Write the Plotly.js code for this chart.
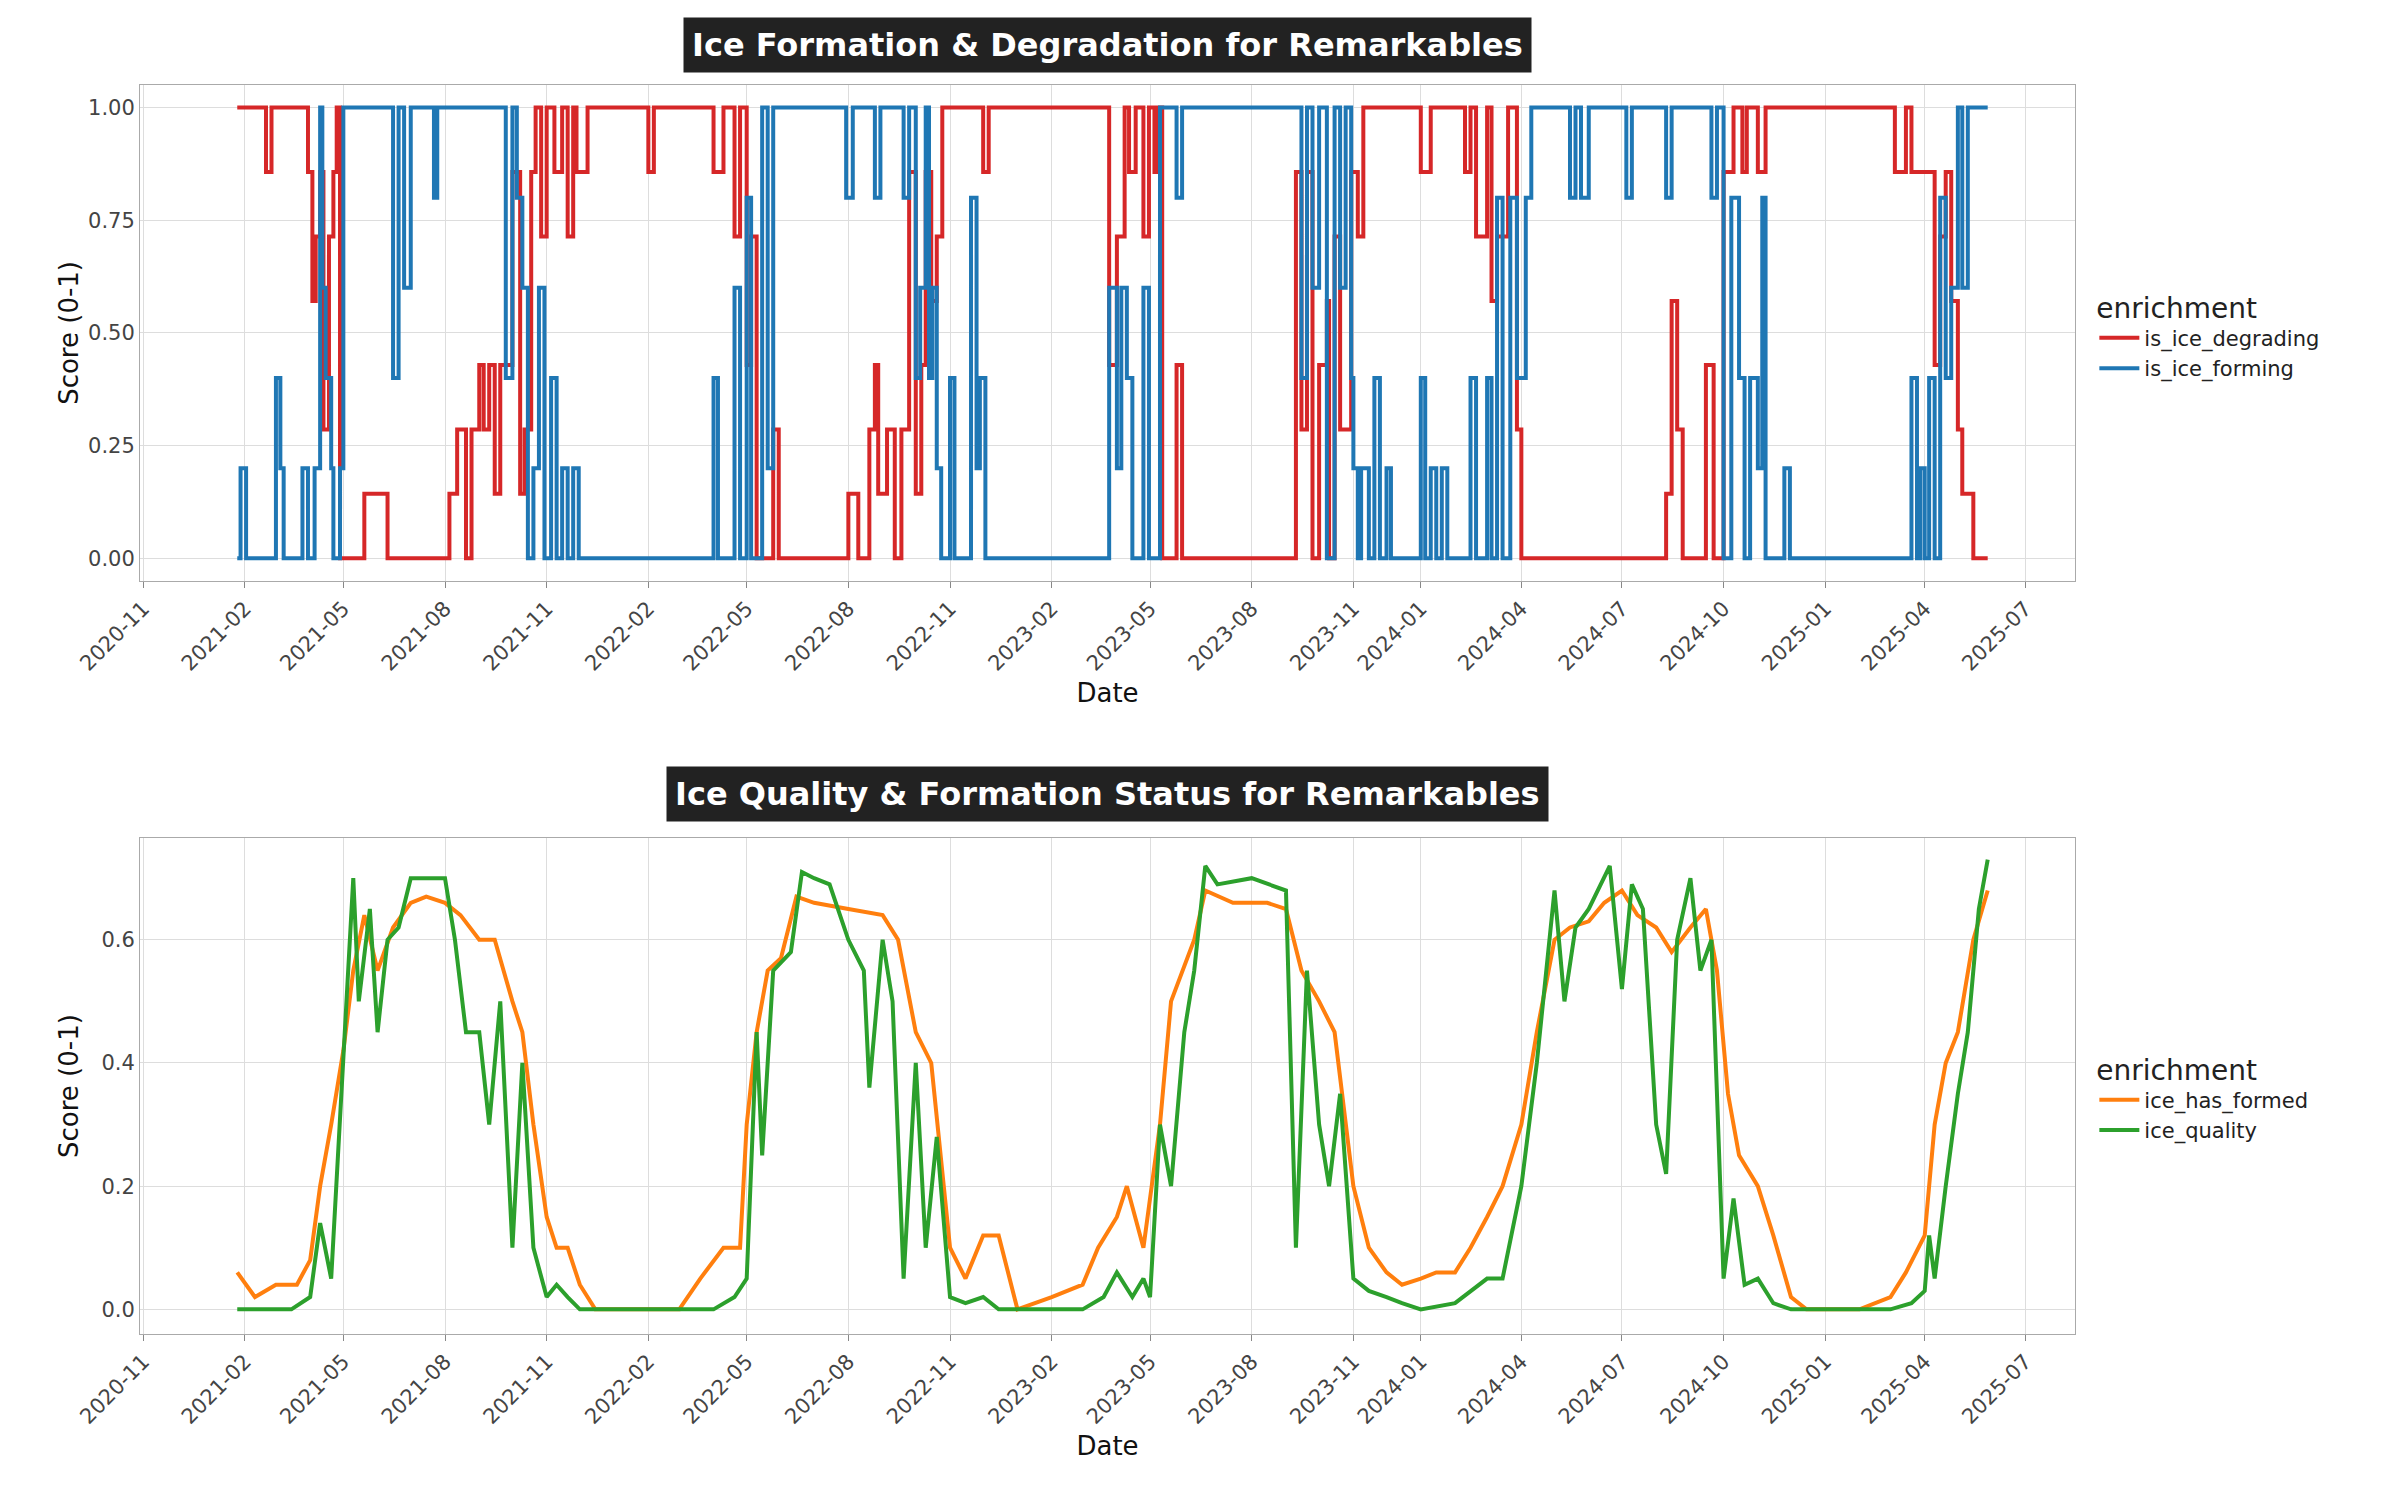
<!DOCTYPE html>
<html><head><meta charset="utf-8">
<script src="https://cdn.plot.ly/plotly-3.0.1.min.js"></script>
<style>body{margin:0;background:#fff}</style></head>
<body><div id="chart" style="width:2400px;height:1500px"></div>
<script>
// top panel: change points (step series)
var degDates = ["2021-01-25","2021-02-20","2021-02-25","2021-03-30","2021-04-03","2021-04-06","2021-04-10","2021-04-13","2021-04-18","2021-04-22","2021-04-25","2021-04-28","2021-05-20","2021-06-10","2021-08-05","2021-08-12","2021-08-20","2021-08-25","2021-09-01","2021-09-05","2021-09-10","2021-09-15","2021-09-20","2021-10-01","2021-10-08","2021-10-12","2021-10-18","2021-10-22","2021-10-27","2021-11-01","2021-11-08","2021-11-15","2021-11-20","2021-11-25","2021-11-28","2021-12-08","2022-02-01","2022-02-06","2022-04-01","2022-04-10","2022-04-20","2022-04-25","2022-05-01","2022-05-05","2022-05-10","2022-05-25","2022-05-30","2022-08-01","2022-08-10","2022-08-20","2022-08-25","2022-08-28","2022-09-05","2022-09-12","2022-09-18","2022-09-25","2022-10-01","2022-10-06","2022-10-10","2022-10-15","2022-10-20","2022-10-25","2022-12-01","2022-12-06","2023-03-25","2023-04-01","2023-04-08","2023-04-12","2023-04-18","2023-04-25","2023-04-30","2023-05-05","2023-05-08","2023-05-12","2023-05-25","2023-05-30","2023-09-10","2023-09-15","2023-09-20","2023-09-25","2023-10-01","2023-10-08","2023-10-10","2023-10-15","2023-10-20","2023-10-30","2023-11-05","2023-11-10","2024-01-01","2024-01-10","2024-02-10","2024-02-15","2024-02-20","2024-03-01","2024-03-05","2024-03-10","2024-03-20","2024-03-28","2024-04-01","2024-08-10","2024-08-15","2024-08-20","2024-08-25","2024-09-15","2024-09-22","2024-10-01","2024-10-10","2024-10-18","2024-10-22","2024-11-01","2024-11-08","2025-03-05","2025-03-15","2025-03-20","2025-04-10","2025-04-15","2025-04-20","2025-04-25","2025-05-01","2025-05-05","2025-05-15","2025-05-28"];
var degVals = [1,0.857,1,0.857,0.571,0.714,0.857,0.286,0.714,0.857,1,0,0.143,0,0.143,0.286,0,0.286,0.429,0.286,0.429,0.143,0.429,0.857,0.143,0.286,0.857,1,0.714,1,0.857,1,0.714,1,0.857,1,0.857,1,0.857,1,0.714,1,0.429,0.714,0,0.286,0,0.143,0,0.286,0.429,0.143,0.286,0,0.286,0.857,0.143,0.429,0.857,0.571,0.714,1,0.857,1,0.429,0.714,1,0.857,1,0.714,1,0.857,1,0,0.429,0,0.857,0.286,0.857,0,0.429,0.571,0,0.714,0.286,0.857,0.714,1,0.857,1,0.857,1,0.714,1,0.571,0.714,1,0.286,0,0.143,0.571,0.286,0,0.429,0,0.857,1,0.857,1,0.857,1,0.857,1,0.857,0.429,0.714,0.857,0.571,0.286,0.143,0,0];
var formDates = ["2021-01-25","2021-01-28","2021-02-02","2021-03-01","2021-03-05","2021-03-08","2021-03-25","2021-03-30","2021-04-05","2021-04-10","2021-04-12","2021-04-15","2021-04-20","2021-04-22","2021-04-28","2021-05-01","2021-06-15","2021-06-20","2021-06-25","2021-07-01","2021-07-22","2021-07-25","2021-09-25","2021-10-01","2021-10-05","2021-10-10","2021-10-15","2021-10-20","2021-10-25","2021-10-30","2021-11-05","2021-11-10","2021-11-15","2021-11-20","2021-11-25","2021-11-30","2022-04-01","2022-04-05","2022-04-20","2022-04-25","2022-05-01","2022-05-05","2022-05-15","2022-05-20","2022-05-25","2022-07-30","2022-08-05","2022-08-25","2022-08-30","2022-09-20","2022-09-25","2022-10-01","2022-10-05","2022-10-10","2022-10-13","2022-10-16","2022-10-20","2022-10-24","2022-11-01","2022-11-05","2022-11-20","2022-11-25","2022-11-28","2022-12-03","2023-03-25","2023-04-01","2023-04-05","2023-04-10","2023-04-15","2023-04-25","2023-04-30","2023-05-10","2023-05-25","2023-05-30","2023-09-15","2023-09-20","2023-09-25","2023-10-01","2023-10-08","2023-10-15","2023-10-20","2023-10-25","2023-10-30","2023-11-01","2023-11-05","2023-11-08","2023-11-15","2023-11-20","2023-11-25","2023-12-01","2023-12-05","2024-01-01","2024-01-05","2024-01-10","2024-01-15","2024-01-20","2024-01-25","2024-02-15","2024-02-20","2024-03-01","2024-03-05","2024-03-10","2024-03-15","2024-03-22","2024-03-28","2024-04-05","2024-04-10","2024-05-15","2024-05-20","2024-05-25","2024-06-01","2024-07-05","2024-07-10","2024-08-10","2024-08-15","2024-09-20","2024-09-25","2024-10-01","2024-10-08","2024-10-15","2024-10-20","2024-10-25","2024-11-01","2024-11-05","2024-11-08","2024-11-25","2024-11-30","2025-03-20","2025-03-25","2025-03-28","2025-04-01","2025-04-05","2025-04-10","2025-04-15","2025-04-20","2025-04-25","2025-05-01","2025-05-05","2025-05-10","2025-05-28"];
var formVals = [0,0.2,0,0.4,0.2,0,0.2,0,0.2,1,0.6,0.4,0.2,0,0.2,1,0.4,1,0.6,1,0.8,1,0.4,1,0.8,0.6,0,0.2,0.6,0,0.4,0,0.2,0,0.2,0,0.4,0,0.6,0,0.8,0,1,0.2,1,0.8,1,0.8,1,0.8,1,0.4,0.6,1,0.4,0.6,0.2,0,0.4,0,0.8,0.2,0.4,0,0.6,0.2,0.6,0.4,0,0.6,0,1,0.8,1,0.4,1,0.6,1,0,1,0.6,1,0.4,0.2,0,0.2,0,0.4,0,0.2,0,0.4,0,0.2,0,0.2,0,0.4,0,0.4,0,0.8,0,0.8,0.4,0.8,1,0.8,1,0.8,1,0.8,1,0.8,1,0.8,1,0,0.8,0.4,0,0.4,0.2,0.8,0,0.2,0,0.4,0,0.2,0,0.4,0,0.8,0.4,0.6,1,0.6,1,1];

// bottom panel
var hasDates = ["2021-01-25","2021-02-10","2021-03-01","2021-03-20","2021-04-01","2021-04-10","2021-04-20","2021-05-01","2021-05-10","2021-05-20","2021-06-01","2021-06-15","2021-07-01","2021-07-15","2021-08-01","2021-08-15","2021-09-01","2021-09-15","2021-10-01","2021-10-10","2021-10-20","2021-11-01","2021-11-10","2021-11-20","2021-12-01","2021-12-15","2022-03-01","2022-03-20","2022-04-10","2022-04-25","2022-05-01","2022-05-10","2022-05-20","2022-06-01","2022-06-15","2022-07-01","2022-08-01","2022-09-01","2022-09-15","2022-10-01","2022-10-15","2022-11-01","2022-11-15","2022-12-01","2022-12-15","2023-01-01","2023-02-01","2023-03-01","2023-03-15","2023-04-01","2023-04-10","2023-04-25","2023-05-10","2023-05-20","2023-06-10","2023-06-20","2023-07-15","2023-08-15","2023-09-01","2023-09-15","2023-10-01","2023-10-15","2023-11-01","2023-11-15","2023-12-01","2023-12-15","2024-01-01","2024-01-15","2024-02-01","2024-02-15","2024-03-01","2024-03-15","2024-04-01","2024-04-15","2024-05-01","2024-05-15","2024-06-01","2024-06-15","2024-07-01","2024-07-15","2024-08-01","2024-08-15","2024-09-01","2024-09-15","2024-09-25","2024-10-05","2024-10-15","2024-11-01","2024-11-15","2024-12-01","2024-12-15","2025-02-01","2025-03-01","2025-03-15","2025-04-01","2025-04-10","2025-04-20","2025-05-01","2025-05-15","2025-05-28"];
var hasVals = [0.06,0.02,0.04,0.04,0.08,0.2,0.3,0.42,0.55,0.64,0.55,0.62,0.66,0.67,0.66,0.64,0.6,0.6,0.5,0.45,0.3,0.15,0.1,0.1,0.04,0,0,0.05,0.1,0.1,0.3,0.45,0.55,0.57,0.67,0.66,0.65,0.64,0.6,0.45,0.4,0.1,0.05,0.12,0.12,0,0.02,0.04,0.1,0.15,0.2,0.1,0.3,0.5,0.6,0.68,0.66,0.66,0.65,0.55,0.5,0.45,0.2,0.1,0.06,0.04,0.05,0.06,0.06,0.1,0.15,0.2,0.3,0.45,0.6,0.62,0.63,0.66,0.68,0.64,0.62,0.58,0.62,0.65,0.55,0.35,0.25,0.2,0.12,0.02,0,0,0.02,0.06,0.12,0.3,0.4,0.45,0.6,0.68];
var qualDates = ["2021-01-25","2021-02-15","2021-03-15","2021-04-01","2021-04-10","2021-04-20","2021-05-01","2021-05-10","2021-05-15","2021-05-25","2021-06-01","2021-06-10","2021-06-20","2021-07-01","2021-07-15","2021-08-01","2021-08-10","2021-08-20","2021-09-01","2021-09-10","2021-09-20","2021-10-01","2021-10-10","2021-10-20","2021-11-01","2021-11-10","2021-11-20","2021-12-01","2022-04-01","2022-04-20","2022-05-01","2022-05-10","2022-05-15","2022-05-25","2022-06-10","2022-06-20","2022-07-01","2022-07-15","2022-08-01","2022-08-15","2022-08-20","2022-09-01","2022-09-10","2022-09-20","2022-10-01","2022-10-10","2022-10-20","2022-11-01","2022-11-15","2022-12-01","2022-12-15","2023-03-01","2023-03-20","2023-04-01","2023-04-15","2023-04-25","2023-05-01","2023-05-10","2023-05-20","2023-06-01","2023-06-10","2023-06-20","2023-07-01","2023-08-01","2023-09-01","2023-09-10","2023-09-20","2023-10-01","2023-10-10","2023-10-20","2023-11-01","2023-11-15","2023-12-01","2023-12-15","2024-01-01","2024-02-01","2024-03-01","2024-03-15","2024-04-01","2024-04-15","2024-05-01","2024-05-10","2024-05-20","2024-06-01","2024-06-20","2024-07-01","2024-07-10","2024-07-20","2024-08-01","2024-08-10","2024-08-20","2024-09-01","2024-09-10","2024-09-20","2024-10-01","2024-10-10","2024-10-20","2024-11-01","2024-11-15","2024-12-01","2025-03-01","2025-03-20","2025-04-01","2025-04-05","2025-04-10","2025-04-20","2025-05-01","2025-05-10","2025-05-20","2025-05-28"];
var qualVals = [0,0,0,0.02,0.14,0.05,0.4,0.7,0.5,0.65,0.45,0.6,0.62,0.7,0.7,0.7,0.6,0.45,0.45,0.3,0.5,0.1,0.4,0.1,0.02,0.04,0.02,0,0,0.02,0.05,0.45,0.25,0.55,0.58,0.71,0.7,0.69,0.6,0.55,0.36,0.6,0.5,0.05,0.4,0.1,0.28,0.02,0.01,0.02,0,0,0.02,0.06,0.02,0.05,0.02,0.3,0.2,0.45,0.55,0.72,0.69,0.7,0.68,0.1,0.55,0.3,0.2,0.35,0.05,0.03,0.02,0.01,0,0.01,0.05,0.05,0.2,0.4,0.68,0.5,0.62,0.65,0.72,0.52,0.69,0.65,0.3,0.22,0.6,0.7,0.55,0.6,0.05,0.18,0.04,0.05,0.01,0,0,0.01,0.03,0.12,0.05,0.2,0.35,0.45,0.65,0.73];

var dateTicks = ["2020-11-01","2021-02-01","2021-05-01","2021-08-01","2021-11-01","2022-02-01","2022-05-01","2022-08-01","2022-11-01","2023-02-01","2023-05-01","2023-08-01","2023-11-01","2024-01-01","2024-04-01","2024-07-01","2024-10-01","2025-01-01","2025-04-01","2025-07-01"];
var dateLabels = dateTicks.map(function(d){ return d.slice(0, 7); });

var lineFont = "DejaVu Sans, sans-serif";
var data = [
  {x: degDates, y: degVals, name: "is_ice_degrading", type: "scatter", mode: "lines",
   line: {color: "#d62728", width: 4, shape: "hv"}, xaxis: "x", yaxis: "y", legend: "legend"},
  {x: formDates, y: formVals, name: "is_ice_forming", type: "scatter", mode: "lines",
   line: {color: "#1f77b4", width: 4, shape: "hv"}, xaxis: "x", yaxis: "y", legend: "legend"},
  {x: hasDates, y: hasVals, name: "ice_has_formed", type: "scatter", mode: "lines",
   line: {color: "#ff7f0e", width: 4}, xaxis: "x2", yaxis: "y2", legend: "legend2"},
  {x: qualDates, y: qualVals, name: "ice_quality", type: "scatter", mode: "lines",
   line: {color: "#2ca02c", width: 4}, xaxis: "x2", yaxis: "y2", legend: "legend2"}
];

function xax(anchor){
  return {anchor: anchor, domain: [0, 1], range: ["2020-10-29", "2025-08-15"], tickvals: dateTicks, ticktext: dateLabels,
    tickangle: -45, showline: true, linecolor: "#aaa", mirror: true,
    ticks: "outside", tickcolor: "#888", ticklen: 6, gridcolor: "#ddd", zeroline: false,
    tickfont: {size: 21, color: "#444"}, title: {text: "Date", font: {size: 26, color: "#111"}}};
}
function yax(anchor, dom, rng, tv, fmt){
  return {anchor: anchor, domain: dom, range: rng, tickvals: tv, tickformat: fmt, showline: true, linecolor: "#aaa", mirror: true,
    gridcolor: "#ddd", zeroline: false, tickfont: {size: 21, color: "#444"},
    title: {text: "Score (0-1)", font: {size: 26, color: "#111"}}};
}
var legendBase = {xref: "paper", yref: "paper", x: 1.01, xanchor: "left", bgcolor: "rgba(0,0,0,0)",
  font: {size: 21, color: "#222"}, tracegroupgap: 8, itemwidth: 40,
  title: {text: "enrichment", font: {size: 28, color: "#222"}}};

var layout = {
  font: {family: lineFont},
  paper_bgcolor: "#fff", plot_bgcolor: "#fff",
  margin: {l: 140, r: 325, t: 85, b: 166},
  xaxis: xax("y"),
  yaxis: yax("x", [0.603, 1], [-0.05, 1.05], [0, 0.25, 0.5, 0.75, 1], ".2f"),
  xaxis2: xax("y2"),
  yaxis2: yax("x2", [0, 0.397], [-0.04, 0.765], [0, 0.2, 0.4, 0.6], ".1f"),
  legend: Object.assign({}, legendBase, {y: 0.80, yanchor: "middle"}),
  legend2: Object.assign({}, legendBase, {y: 0.19, yanchor: "middle"}),
  annotations: [
    {text: "<b>Ice Formation & Degradation for Remarkables</b>", xref: "paper", yref: "paper",
     x: 0.5, y: 1.01, yanchor: "bottom", showarrow: false, bgcolor: "#222", borderpad: 8,
     font: {size: 32, color: "#fff"}},
    {text: "<b>Ice Quality & Formation Status for Remarkables</b>", xref: "paper", yref: "paper",
     x: 0.5, y: 0.41, yanchor: "bottom", showarrow: false, bgcolor: "#222", borderpad: 8,
     font: {size: 32, color: "#fff"}}
  ]
};
Plotly.newPlot("chart", data, layout, {displayModeBar: false});
</script></body></html>
